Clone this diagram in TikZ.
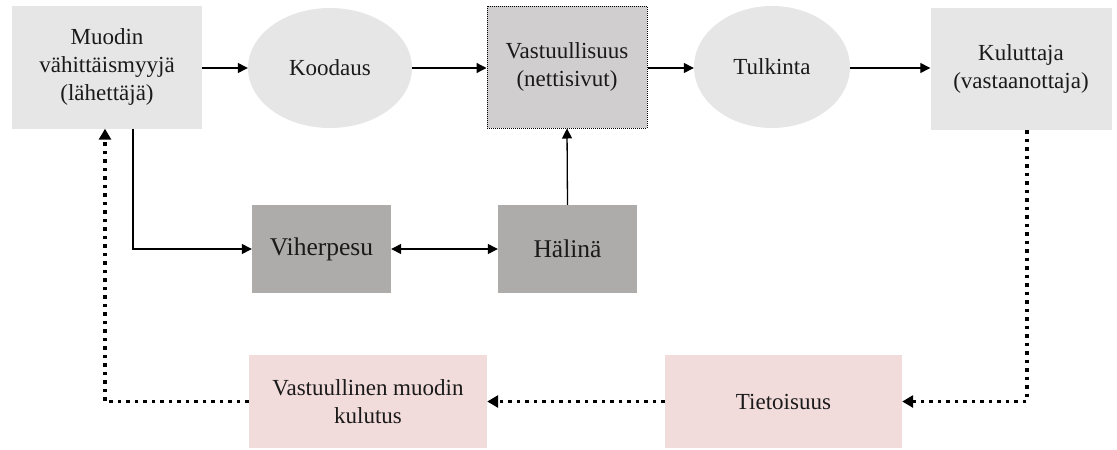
\documentclass[tikz,border=0pt]{standalone}
\usepackage{fontspec}
\setmainfont{Liberation Serif}
\usetikzlibrary{arrows.meta,shapes.geometric}
\definecolor{boxlight}{HTML}{E7E6E6}
\definecolor{boxmid}{HTML}{D0CECE}
\definecolor{boxdark}{HTML}{AEABAB}
\definecolor{boxpink}{HTML}{F2DCDB}
\definecolor{ink}{HTML}{1A1A1A}
\tikzset{
  lbl/.style={font=\fontsize{23}{28}\selectfont, text=ink, align=center, inner sep=0pt},
  lightbox/.style={lbl, rectangle, fill=boxlight},
  oval/.style={lbl, ellipse, fill=boxlight},
  midbox/.style={lbl, rectangle, fill=boxmid, draw=black, line width=1pt, dash pattern=on 1pt off 1pt},
  darkbox/.style={lbl, rectangle, fill=boxdark, font=\fontsize{25.5}{30}\selectfont},
  pinkbox/.style={lbl, rectangle, fill=boxpink},
  flow/.style={draw=black, line width=1.3pt, -{Triangle[length=10pt,width=10pt]}},
  twoway/.style={draw=black, line width=1.3pt, {Triangle[length=10pt,width=10pt]}-{Triangle[length=10pt,width=10pt]}},
  feedback/.style={draw=black, line width=3.5pt, dash pattern=on 3.5pt off 5pt,
    -{Triangle[length=11pt,width=12pt]}},
}
\begin{document}
\begin{tikzpicture}[x=1pt,y=-1pt]
  \useasboundingbox (0,0) rectangle (1117,450);

  % top row: sender, encoding, message, decoding, receiver
  \node[lightbox, minimum width=190, minimum height=123] (sender) at (107,67)
    {Muodin\\vähittäismyyjä\\(lähettäjä)};
  \node[oval, minimum width=164, minimum height=120] (encode) at (330,68) {Koodaus};
  \node[midbox, minimum width=160, minimum height=122] (message) at (567,67)
    {Vastuullisuus\\(nettisivut)};
  \node[oval, minimum width=156, minimum height=122] (decode) at (772,67) {Tulkinta};
  \node[lightbox, minimum width=181, minimum height=122] (receiver) at (1021,69)
    {Kuluttaja\\(vastaanottaja)};

  % middle row: noise sources
  \node[darkbox, minimum width=139, minimum height=88] (green) at (321.5,249) {Viherpesu};
  \node[darkbox, minimum width=139, minimum height=88] (noise) at (567.5,249) {Hälinä};

  % bottom row: feedback
  \node[pinkbox, minimum width=238, minimum height=93] (conscious) at (368,401.5)
    {Vastuullinen muodin\\kulutus};
  \node[pinkbox, minimum width=237, minimum height=93] (aware) at (783.5,401.5)
    {Tietoisuus};

  % main channel
  \draw[flow] (sender.east |- 0,68) -- (encode.west |- 0,68);
  \draw[flow] (encode.east |- 0,68) -- (message.west |- 0,68);
  \draw[flow] (message.east |- 0,68) -- (decode.west |- 0,68);
  \draw[flow] (decode.east |- 0,68) -- (receiver.west |- 0,68);

  % noise branch
  \draw[flow] ([xshift=26pt]sender.south) |- (green.west);
  \draw[twoway] (green.east) -- (noise.west);
  \draw[flow] (noise.north) -- (message.south);

  % feedback loop
  \draw[feedback] ([xshift=6pt]receiver.south) |- (aware.east);
  \draw[feedback] (aware.west) -- (conscious.east);
  \draw[feedback] (conscious.west) -| ([xshift=-2pt]sender.south);
\end{tikzpicture}
\end{document}
